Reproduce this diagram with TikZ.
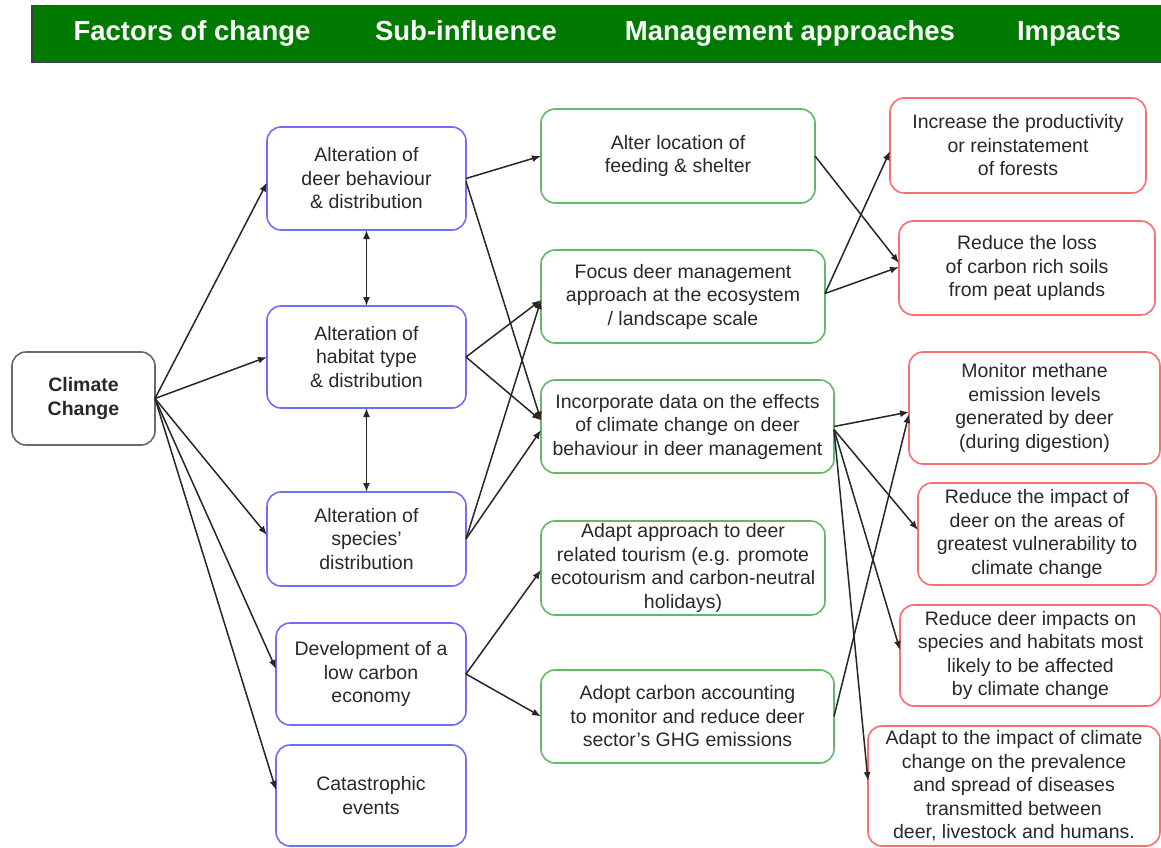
\documentclass[tikz,border=0pt]{standalone}
\usepackage{fontspec}
\setmainfont{Liberation Sans}
\usetikzlibrary{arrows.meta}
\definecolor{hdrgreen}{RGB}{0,122,0}
\definecolor{bluec}{RGB}{110,110,250}
\definecolor{greenc}{RGB}{100,185,100}
\definecolor{redc}{RGB}{250,110,110}
\definecolor{greyc}{RGB}{105,105,105}
\definecolor{txtc}{RGB}{40,40,40}
\tikzset{
  boxbase/.style={draw, rounded corners=14pt, line width=1.6pt, align=center,
    inner sep=0pt, outer sep=0pt, text=txtc,
    font=\fontsize{19.5}{23.5}\selectfont},
  bluebox/.style={boxbase, draw=bluec},
  greenbox/.style={boxbase, draw=greenc},
  redbox/.style={boxbase, draw=redc},
  greybox/.style={boxbase, draw=greyc, font=\bfseries\fontsize{19.5}{24}\selectfont},
  hdrtext/.style={text=white, font=\bfseries\fontsize{27.5}{30}\selectfont, inner sep=0pt, anchor=base},
  conn/.style={line width=1.5pt, draw=black!85, -{Latex[length=9pt,width=7pt]}},
  biconn/.style={line width=1.5pt, draw=black!85, {Latex[length=9pt,width=7pt]}-{Latex[length=9pt,width=7pt]}}
}
\begin{document}
\begin{tikzpicture}[x=1pt,y=-1pt]
\useasboundingbox (0,0) rectangle (1161,848);
% header
\node[draw=black!75, line width=1.5pt, fill=hdrgreen, minimum width=1140pt, minimum height=57pt, inner sep=0pt, anchor=north west] (hdr) at (31,5) {};
\node[hdrtext] (h1) at (192,41) {Factors of change};
\node[hdrtext] (h2) at (466,41) {Sub-influence};
\node[hdrtext] (h3) at (790,41) {Management approaches};
\node[hdrtext] (h4) at (1069,41) {Impacts};
% factor
\node[greybox, minimum width=143pt, minimum height=93pt] (cc) at (83.5,398.5) {Climate\\Change};
% sub-influences
\node[bluebox, minimum width=199pt, minimum height=103pt] (b1) at (366.5,178.5) {Alteration of\\deer behaviour\\\& distribution};
\node[bluebox, minimum width=199pt, minimum height=102pt] (b2) at (366.5,357) {Alteration of\\habitat type\\\& distribution};
\node[bluebox, minimum width=199pt, minimum height=94pt] (b3) at (366.5,539) {Alteration of\\species'\\distribution};
\node[bluebox, minimum width=190pt, minimum height=102pt] (b4) at (371,674) {Development of a\\low carbon\\economy};
\node[bluebox, minimum width=190pt, minimum height=101pt] (b5) at (371,795.5) {Catastrophic\\events};
% management approaches
\node[greenbox, minimum width=274pt, minimum height=94pt] (g1) at (678,156) {Alter location of\\feeding \& shelter};
\node[greenbox, minimum width=284pt, minimum height=93pt] (g2) at (683,296.5) {Focus deer management\\approach at the ecosystem\\/ landscape scale};
\node[greenbox, minimum width=293pt, minimum height=93pt] (g3) at (687.5,426.5) {Incorporate data on the effects\\of climate change on deer\\behaviour in deer management};
\node[greenbox, minimum width=284pt, minimum height=94pt] (g4) at (683,568) {Adapt approach to deer\\related tourism (e.g. promote\\ecotourism and carbon-neutral\\holidays)};
\node[greenbox, minimum width=293pt, minimum height=93pt] (g5) at (687.5,716.5) {Adopt carbon accounting\\to monitor and reduce deer\\sector's GHG emissions};
% impacts
\node[redbox, minimum width=256pt, minimum height=95pt] (r1) at (1018,145.5) {Increase the productivity\\or reinstatement\\of forests};
\node[redbox, minimum width=256pt, minimum height=94pt] (r2) at (1027,268) {Reduce the loss\\of carbon rich soils\\from peat uplands};
\node[redbox, minimum width=251pt, minimum height=112pt] (r3) at (1034.5,408) {Monitor methane\\emission levels\\generated by deer\\(during digestion)};
\node[redbox, minimum width=238pt, minimum height=102pt] (r4) at (1037,534) {Reduce the impact of\\deer on the areas of\\greatest vulnerability to\\climate change};
\node[redbox, minimum width=261pt, minimum height=101pt] (r5) at (1030.5,655.5) {Reduce deer impacts on\\species and habitats most\\likely to be affected\\by climate change};
\node[redbox, minimum width=292pt, minimum height=120pt] (r6) at (1014,786) {Adapt to the impact of climate\\change on the prevalence\\and spread of diseases\\transmitted between\\deer, livestock and humans.};
% climate change -> sub-influences
\draw[conn] (cc.east) -- ([yshift=-4pt]b1.west);
\draw[conn] (cc.east) -- (b2.west);
\draw[conn] (cc.east) -- ([yshift=4pt]b3.west);
\draw[conn] (cc.east) -- ([yshift=5pt]b4.west);
\draw[conn] (cc.east) -- ([yshift=5.5pt]b5.west);
% between sub-influences
\draw[biconn] (b1.south) -- (b2.north);
\draw[biconn] (b2.south) -- (b3.north);
% sub-influences -> approaches
\draw[conn] (b1.east) -- (g1.west);
\draw[conn] ([yshift=-3pt]b1.east) -- ([yshift=6pt]g3.west);
\draw[conn] (b2.east) -- ([yshift=-3.5pt]g2.west);
\draw[conn] (b2.east) -- ([yshift=6pt]g3.west);
\draw[conn] (b3.east) -- ([yshift=-3.5pt]g2.west);
\draw[conn] (b3.east) -- ([yshift=-3.5pt]g3.west);
\draw[conn] (b4.east) -- ([yshift=-2pt]g4.west);
\draw[conn] (b4.east) -- (g5.west);
% approaches -> impacts
\draw[conn] (g1.east) -- ([yshift=5pt]r2.west);
\draw[conn] ([yshift=3pt]g2.east) -- ([yshift=-5.5pt]r1.west);
\draw[conn] ([yshift=3pt]g2.east) -- ([yshift=1pt]r2.west);
\draw[conn] (g3.east) -- ([yshift=-4pt]r3.west);
\draw[conn] ([yshift=-3pt]g3.east) -- ([yshift=4pt]r4.west);
\draw[conn] ([yshift=-3pt]g3.east) -- ([yshift=5.5pt]r5.west);
\draw[conn] ([yshift=-3pt]g3.east) -- ([yshift=5pt]r6.west);
\draw[conn] (g5.east) -- ([yshift=-6pt]r3.west);
\end{tikzpicture}
\end{document}
